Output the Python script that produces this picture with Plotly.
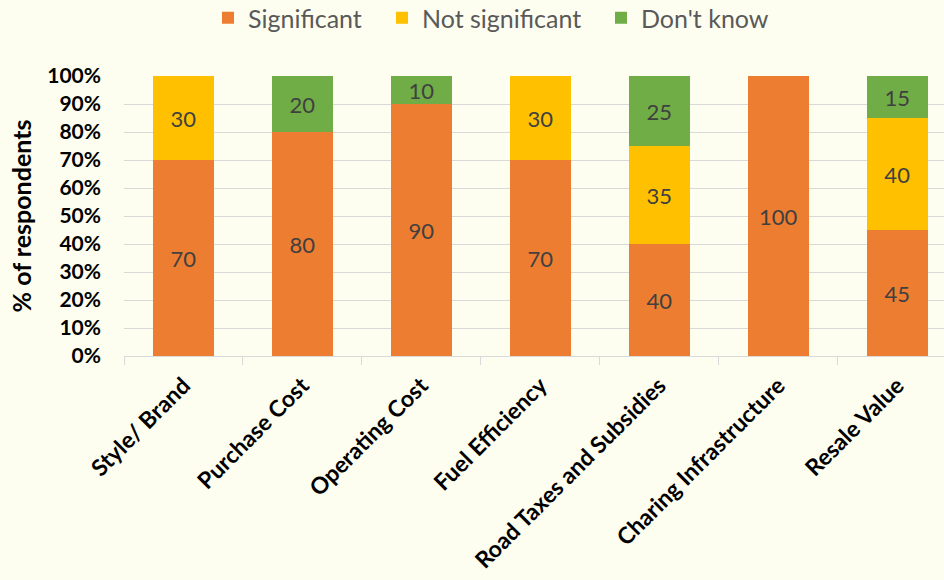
import plotly.graph_objects as go

categories = ["Style/ Brand", "Purchase Cost", "Operating Cost", "Fuel Efficiency",
              "Road Taxes and Subsidies", "Charing Infrastructure", "Resale Value"]
significant = [70, 80, 90, 70, 40, 100, 45]
not_significant = [30, 0, 0, 30, 35, 0, 40]
dont_know = [0, 20, 10, 0, 25, 0, 15]
y_ticks = list(range(0, 101, 10))
y_tick_labels = [f"{v}%" for v in y_ticks]

# (name, values, colour, legend id, legend text start in px)
series = [
    ("Significant", significant, "#ED7D31", "legend", 248),
    ("Not significant", not_significant, "#FFC000", "legend2", 422),
    ("Don't know", dont_know, "#70AD47", "legend3", 641),
]

FONT = "Lato, 'Open Sans', sans-serif"
BG = "#FEFEF0"
W, H = 944, 580

fig = go.Figure()
legends = {}
for name, vals, color, leg, text_x in series:
    fig.add_trace(go.Bar(
        name=name,
        x=categories,
        y=vals,
        legend=leg,
        marker=dict(color=color, line=dict(width=0)),
        text=[str(v) if v > 0 else "" for v in vals],
        textposition="inside",
        insidetextanchor="middle",
        textangle=0,
        textfont=dict(family=FONT, size=22, color="#404040"),
        cliponaxis=False,
    ))
    legends[leg] = dict(
        orientation="h",
        xref="container", yref="container",
        x=(text_x - 40) / W, xanchor="left",
        y=1 - 18 / H, yanchor="middle",
        font=dict(family=FONT, size=25, color="#595959"),
        bgcolor="rgba(0,0,0,0)",
    )

fig.update_layout(
    barmode="stack",
    bargap=0.49,
    width=W,
    height=H,
    paper_bgcolor=BG,
    plot_bgcolor=BG,
    margin=dict(l=124, r=0, t=76, b=224),
    font=dict(family=FONT, color="#000000"),
    uniformtext=dict(minsize=22, mode="show"),
    showlegend=True,
    **legends,
)

fig.update_xaxes(
    range=[-0.5, 6.393],
    tickangle=-45,
    tickfont=dict(family=FONT, size=23, color="#000000", weight="bold"),
    ticklabelstandoff=6,
    showline=True,
    linecolor="#D9D9D9",
    linewidth=1,
    ticks="outside",
    tickson="boundaries",
    ticklen=8,
    tickcolor="#D9D9D9",
    showgrid=False,
)

fig.update_yaxes(
    range=[0, 100],
    tickvals=y_ticks,
    ticktext=y_tick_labels,
    tickfont=dict(family=FONT, size=21, color="#000000", weight="bold"),
    ticklabelstandoff=22,
    showgrid=True,
    gridcolor="#D9D9D9",
    gridwidth=1,
    zeroline=False,
    showline=False,
    ticks="",
    title=dict(text="% of respondents",
               font=dict(family=FONT, size=25, color="#000000", weight="bold"),
               standoff=8),
)

fig.write_html("out.html")
